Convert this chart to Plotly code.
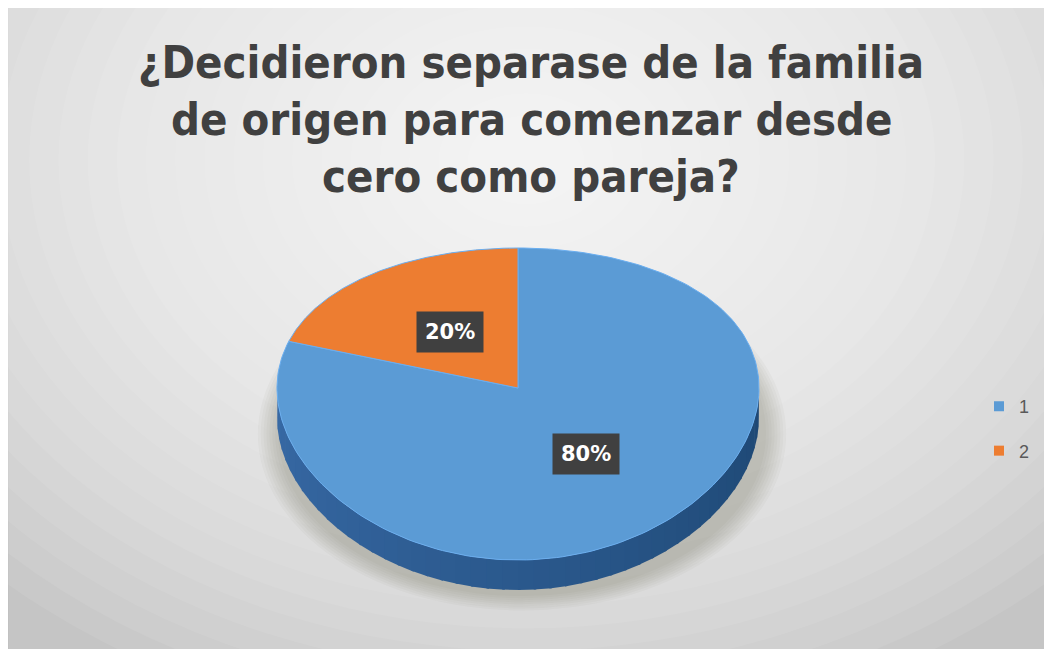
import numpy as np
import plotly.graph_objects as go

# ---- data ----
title_lines = ["¿Decidieron separase de la familia",
               "de origen para comenzar desde",
               "cero como pareja?"]
labels = ["1", "2"]
values = [80, 20]
colors = ["#5b9bd5", "#ed7d31"]

# ---- geometry (page pixel space; browser body margin is 8px) ----
W, H = 1052, 649
OFF = 8
cx, cy = 518, 388
rx, ry0, dry = 241, 156, 16
depth = 30


def proj(phi_deg):
    p = np.radians(phi_deg)
    s = np.sin(p)
    x = cx + rx * np.cos(p)
    y = cy - s * (ry0 - dry * s)
    return x, y


fig = go.Figure()

# background gradient
shapes = []
shapes.append(dict(type="rect", x0=8, x1=W + OFF, y0=6, y1=H + OFF, xref="x", yref="y",
                   fillcolor="#c5c5c5", line=dict(width=1, color="#bdbdbd"), layer="below"))
N = 26
for i in range(N):
    f = 1 - i / N
    shapes.append(dict(type="circle", xref="x", yref="y",
                       x0=526 - 760 * f, x1=526 + 760 * f,
                       y0=160 - 580 * f, y1=160 + 580 * f,
                       fillcolor="rgba(255,255,255,0.075)", line=dict(width=0), layer="below"))
# soft shadow under the pie
for i in range(8):
    g = 1 + 0.012 * (8 - i)
    shapes.append(dict(type="circle", xref="x", yref="y",
                       x0=cx - rx * g + 4, x1=cx + rx * g + 4,
                       y0=cy - 150 * g + 34, y1=cy + 172 * g + depth + 4,
                       fillcolor="rgba(90,80,70,0.035)", line=dict(width=0), layer="below"))

# side of the pie (front, lower half) with gradient
nb = 48
c0 = np.array([0x38, 0x6a, 0xa6])
c1 = np.array([0x1e, 0x48, 0x74])
for k in range(nb):
    a0 = 180 + 180 * k / nb
    a1 = 180 + 180 * (k + 1) / nb + 0.6
    phis = np.linspace(a0, a1, 6)
    xs, ys = proj(phis)
    px = np.concatenate([xs, xs[::-1]])
    py = np.concatenate([ys, ys[::-1] + depth])
    t = k / (nb - 1)
    c = (c0 * (1 - t) + c1 * t).astype(int)
    fig.add_trace(go.Scatter(x=px, y=py, mode="lines", fill="toself",
                             fillcolor=f"rgb({c[0]},{c[1]},{c[2]})",
                             line=dict(width=0), hoverinfo="skip", showlegend=False))

# top face wedges
total = sum(values)
start = 90.0
label_pos = []
for lab, v, col in zip(labels, values, colors):
    sweep = 360.0 * v / total
    phis = np.linspace(start, start - sweep, 200)
    xs, ys = proj(phis)
    px = np.concatenate([[cx], xs, [cx]])
    py = np.concatenate([[cy], ys, [cy]])
    fig.add_trace(go.Scatter(x=px, y=py, mode="lines", fill="toself", fillcolor=col,
                             line=dict(width=1, color="#6aaef0"), showlegend=False,
                             hoverinfo="skip"))
    mid = np.radians(start - sweep / 2)
    s = np.sin(mid)
    fr = 0.48
    label_pos.append((cx + rx * np.cos(mid) * fr, cy - s * (ry0 - dry * s) * fr,
                      f"{round(100 * v / total)}%"))
    start -= sweep

# legend entries
for lab, col in zip(labels, colors):
    fig.add_trace(go.Scatter(x=[None], y=[None], mode="markers", name=lab, legendgroup=lab,
                             marker=dict(symbol="square", size=10, color=col)))

annotations = []
for x, y, t in label_pos:
    annotations.append(dict(x=x, y=y, xref="x", yref="y", text=f"<b>{t}</b>", showarrow=False,
                            bgcolor="#404040", borderpad=8,
                            font=dict(family="DejaVu Sans", size=21, color="white")))

for i, line in enumerate(title_lines):
    annotations.append(dict(x=531, y=62 + 57 * i, xref="x", yref="y", text=f"<b>{line}</b>",
                            showarrow=False,
                            font=dict(family="Liberation Sans Narrow, DejaVu Sans Condensed, sans-serif",
                                      size=45, color="#404040")))

fig.update_layout(
    width=W, height=H, margin=dict(l=0, r=0, t=0, b=0),
    paper_bgcolor="white", plot_bgcolor="rgba(0,0,0,0)",
    xaxis=dict(range=[OFF, W + OFF], visible=False, fixedrange=True),
    yaxis=dict(range=[H + OFF, OFF], visible=False, fixedrange=True),
    shapes=shapes, annotations=annotations,
    legend=dict(x=0.923, y=0.352, xanchor="left", yanchor="middle",
                font=dict(family="Liberation Sans, sans-serif", size=18, color="#595959"),
                bgcolor="rgba(0,0,0,0)", tracegroupgap=18, itemwidth=30),
    showlegend=True,
)

fig.write_html("out.html")
